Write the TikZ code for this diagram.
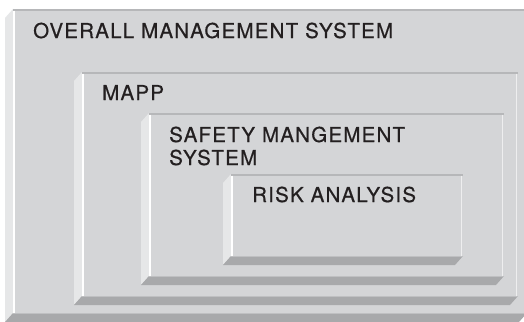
\documentclass[tikz,border=0pt]{standalone}
\usepackage{fontspec}
\setmainfont{TeX Gyre Heros}[LetterSpace=6,FakeBold=0.6]
\definecolor{facec}{HTML}{D4D5D7}
\definecolor{leftc}{HTML}{E6E7E8}
\definecolor{botc}{HTML}{A8A9AB}
\definecolor{topc}{HTML}{B6B7B9}
\definecolor{edgec}{HTML}{EEEEEF}
\definecolor{txtc}{HTML}{231F20}
\newcommand\mybevbox[4]{% fl, top, right, bottom
  \fill[leftc] (#1-8,#2+9) -- (#1,#2) -- (#1,#4) -- (#1-8,#4+9) -- cycle;
  \fill[botc] (#1,#4) -- (#3,#4) -- (#3-8,#4+9) -- (#1-8,#4+9) -- cycle;
  \fill[facec] (#1,#2) rectangle (#3,#4);
  \draw[topc,line width=1.6pt] (#1,#2+0.8) -- (#3,#2+0.8);
  \draw[white,line width=1.6pt] (#1+0.8,#2+1.6) -- (#1+0.8,#4);
  \draw[edgec,line width=1.4pt] (#3-1.5,#2+1.6) -- (#3-1.5,#4);
  \draw[topc!70!facec,line width=1.4pt] (#1,#4+0.7) -- (#3,#4+0.7);
}
\begin{document}
\begin{tikzpicture}[x=1pt,y=-1pt,
  lbl/.style={anchor=base west,inner sep=0pt,text=txtc,font=\fontsize{20.5}{23}\selectfont}]
\useasboundingbox (0,0) rectangle (524,321);
\fill[white] (0,0) rectangle (524,321);
\mybevbox{13}{9}{527}{313}
\mybevbox{82}{72}{518}{296}
\mybevbox{149}{113}{504}{276}
\mybevbox{231}{174}{463}{256}
\node[lbl] (overall) at (33,38) {OVERALL MANAGEMENT SYSTEM};
\node[lbl] (mapp) at (102,100) {MAPP};
\node[lbl] (safety) at (169,142) {\vtop{\hbox{SAFETY MANGEMENT}\hbox{SYSTEM}}};
\node[lbl] (risk) at (252,202) {RISK ANALYSIS};
\end{tikzpicture}
\end{document}
